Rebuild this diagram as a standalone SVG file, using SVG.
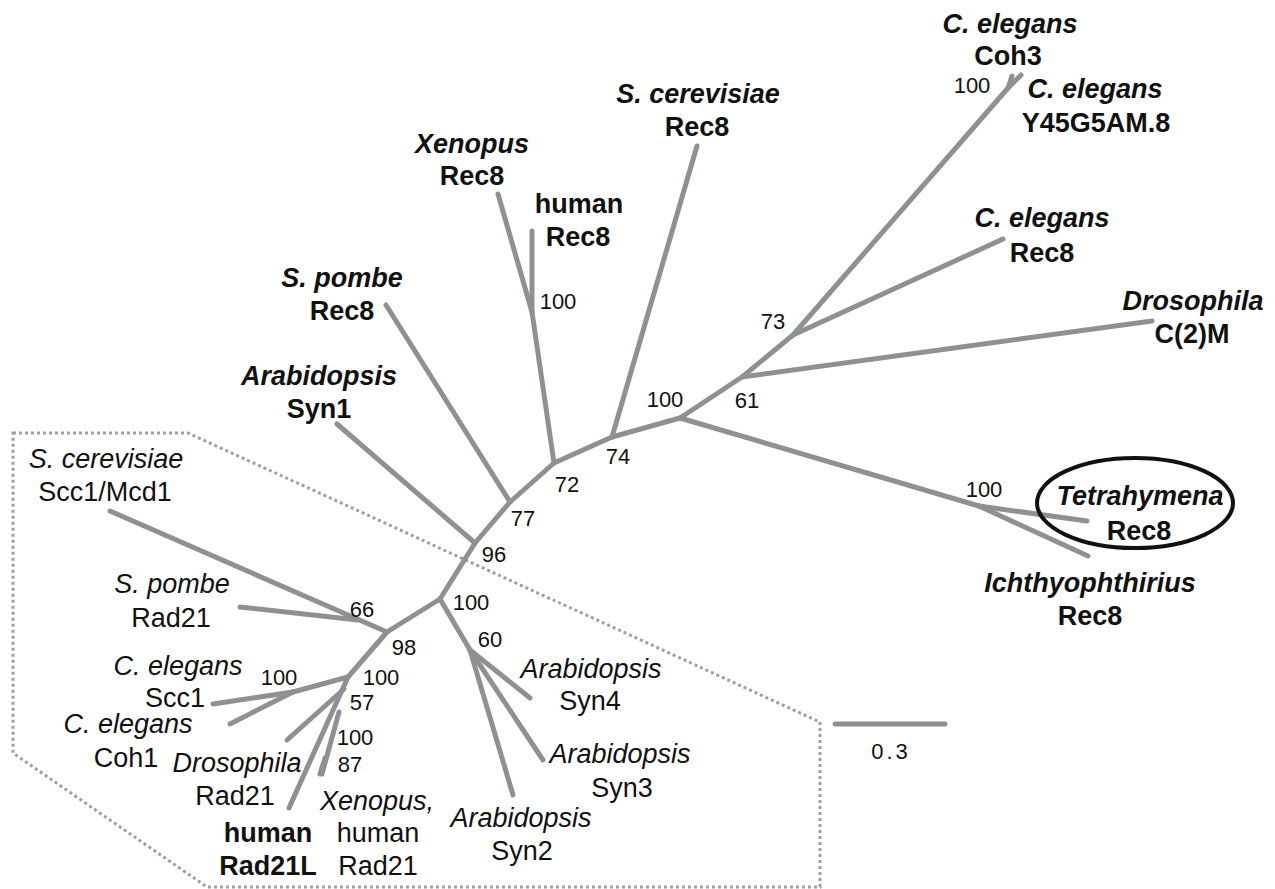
<svg xmlns="http://www.w3.org/2000/svg" width="1275" height="889" viewBox="0 0 1275 889">
<style>
.br{fill:none;stroke:#8e9094;stroke-width:5;stroke-linecap:round;stroke-linejoin:round}
.lb{font-family:"Liberation Sans",Arial,sans-serif;font-size:27px;fill:#111;text-anchor:middle}
.b{font-weight:bold}
.i{font-style:italic}
.n{font-family:"Liberation Sans",Arial,sans-serif;font-size:22px;fill:#111;text-anchor:middle}
</style>
<rect width="1275" height="889" fill="#fff"/>
<polygon points="13,433 188,433 820,722 820,887 207,887 13,753" fill="none" stroke="#a0a0a0" stroke-width="3" stroke-dasharray="3 3"/>
<g id="connectors">
<polyline class="br" points="440,599 475,543 510,502 554,463 612,437 680,418"/>
<line class="br" x1="337" y1="424" x2="475" y2="543"/>
<line class="br" x1="386" y1="305" x2="510" y2="502"/>
<line class="br" x1="554" y1="463" x2="532" y2="312"/>
<line class="br" x1="532" y1="312" x2="498" y2="194"/>
<line class="br" x1="532" y1="312" x2="532" y2="231"/>
<line class="br" x1="612" y1="437" x2="697" y2="146"/>
<polyline class="br" points="680,418 742,377 793,335 1008,88"/>
<line class="br" x1="1008" y1="88" x2="1012" y2="76"/>
<line class="br" x1="1008" y1="88" x2="1021" y2="75"/>
<line class="br" x1="742" y1="377" x2="1152" y2="321"/>
<line class="br" x1="793" y1="335" x2="1003" y2="239"/>
<line class="br" x1="680" y1="418" x2="979" y2="506"/>
<line class="br" x1="979" y1="506" x2="1087" y2="521"/>
<line class="br" x1="979" y1="506" x2="1088" y2="556"/>
<line class="br" x1="440" y1="599" x2="387" y2="632"/>
<line class="br" x1="440" y1="599" x2="470" y2="650"/>
<line class="br" x1="470" y1="650" x2="530" y2="698"/>
<line class="br" x1="470" y1="650" x2="543" y2="760"/>
<line class="br" x1="470" y1="650" x2="513" y2="795"/>
<line class="br" x1="110" y1="511" x2="387" y2="632"/>
<line class="br" x1="240" y1="607" x2="358" y2="620"/>
<line class="br" x1="387" y1="632" x2="348" y2="677"/>
<line class="br" x1="348" y1="677" x2="293" y2="692"/>
<line class="br" x1="293" y1="692" x2="213" y2="704"/>
<line class="br" x1="293" y1="692" x2="230" y2="724"/>
<line class="br" x1="348" y1="677" x2="289" y2="808"/>
<line class="br" x1="344" y1="689" x2="287" y2="740"/>
<line class="br" x1="339" y1="712" x2="322" y2="774"/>
<line class="br" x1="325" y1="758" x2="320" y2="774"/>
</g>
<g id="ellipse"><ellipse cx="1135" cy="503" rx="98" ry="45" fill="none" stroke="#111" stroke-width="4"/></g>
<g id="scale"><line class="br" x1="835" y1="724" x2="945" y2="724"/><text class="n" x="891" y="759" font-size="22" letter-spacing="3">0.3</text></g>
<g id="n-ce-coh3"><text class="lb b i" x="1010" y="33">C. elegans</text><text class="lb b" x="1008" y="65">Coh3</text></g>
<g id="n-ce-y45"><text class="lb b i" x="1095" y="98">C. elegans</text><text class="lb b" x="1096" y="132">Y45G5AM.8</text></g>
<g id="n-ce-rec8"><text class="lb b i" x="1042" y="227">C. elegans</text><text class="lb b" x="1042" y="262">Rec8</text></g>
<g id="n-dm-c2m"><text class="lb b i" x="1193" y="310">Drosophila</text><text class="lb b" x="1192" y="343">C(2)M</text></g>
<g id="n-tetra"><text class="lb b i" x="1140" y="505">Tetrahymena</text><text class="lb b" x="1139" y="540">Rec8</text></g>
<g id="n-ichthy"><text class="lb b i" x="1090" y="592">Ichthyophthirius</text><text class="lb b" x="1090" y="625">Rec8</text></g>
<g id="n-sc-rec8"><text class="lb b i" x="698" y="103">S. cerevisiae</text><text class="lb b" x="697" y="136">Rec8</text></g>
<g id="n-xl-rec8"><text class="lb b i" x="472" y="153">Xenopus</text><text class="lb b" x="472" y="185">Rec8</text></g>
<g id="n-hs-rec8"><text class="lb b" x="579" y="213">human</text><text class="lb b" x="578" y="246">Rec8</text></g>
<g id="n-sp-rec8"><text class="lb b i" x="342" y="287">S. pombe</text><text class="lb b" x="342" y="320">Rec8</text></g>
<g id="n-at-syn1"><text class="lb b i" x="319" y="385">Arabidopsis</text><text class="lb b" x="319" y="418">Syn1</text></g>
<g id="n-sc-scc1"><text class="lb i" x="106" y="468">S. cerevisiae</text><text class="lb" x="105" y="501">Scc1/Mcd1</text></g>
<g id="n-sp-rad21"><text class="lb i" x="172" y="593">S. pombe</text><text class="lb" x="171" y="627">Rad21</text></g>
<g id="n-ce-scc1"><text class="lb i" x="178" y="675">C. elegans</text><text class="lb" x="175" y="707">Scc1</text></g>
<g id="n-ce-coh1"><text class="lb i" x="128" y="733">C. elegans</text><text class="lb" x="126" y="767">Coh1</text></g>
<g id="n-dm-rad21"><text class="lb i" x="237" y="772">Drosophila</text><text class="lb" x="235" y="805">Rad21</text></g>
<g id="n-hs-rad21l"><text class="lb b" x="268" y="842">human</text><text class="lb b" x="268" y="875">Rad21L</text></g>
<g id="n-xl-rad21"><text class="lb i" x="377" y="810">Xenopus,</text><text class="lb" x="378" y="842">human</text><text class="lb" x="378" y="875">Rad21</text></g>
<g id="n-at-syn4"><text class="lb i" x="591" y="678">Arabidopsis</text><text class="lb" x="590" y="710">Syn4</text></g>
<g id="n-at-syn3"><text class="lb i" x="620" y="763">Arabidopsis</text><text class="lb" x="622" y="797">Syn3</text></g>
<g id="n-at-syn2"><text class="lb i" x="521" y="827">Arabidopsis</text><text class="lb" x="522" y="860">Syn2</text></g>
<g id="bootstrap">
<text class="n" x="972" y="93">100</text>
<text class="n" x="984" y="497">100</text>
<text class="n" x="558" y="309">100</text>
<text class="n" x="773" y="329">73</text>
<text class="n" x="747" y="408">61</text>
<text class="n" x="665" y="407">100</text>
<text class="n" x="618" y="464">74</text>
<text class="n" x="567" y="492">72</text>
<text class="n" x="523" y="526">77</text>
<text class="n" x="494" y="562">96</text>
<text class="n" x="471" y="610">100</text>
<text class="n" x="490" y="647">60</text>
<text class="n" x="362" y="617">66</text>
<text class="n" x="404" y="655">98</text>
<text class="n" x="279" y="685">100</text>
<text class="n" x="381" y="685">100</text>
<text class="n" x="362" y="710">57</text>
<text class="n" x="355" y="745">100</text>
<text class="n" x="350" y="772">87</text>
</g>
</svg>
